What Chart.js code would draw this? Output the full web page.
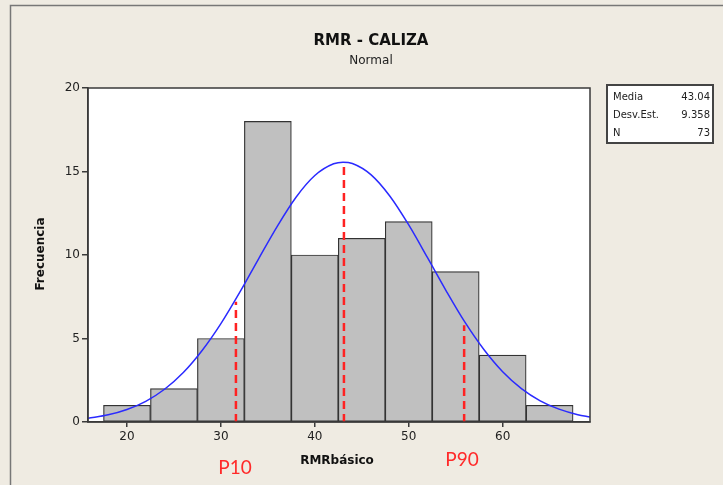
<!DOCTYPE html>
<html>
<head>
<meta charset="utf-8">
<script src="https://cdn.jsdelivr.net/npm/chart.js@4.4.0/dist/chart.umd.min.js"></script>
<style>
  html, body { margin: 0; padding: 0; background: #efebe2; }
  #wrap { width: 723px; height: 485px; }
</style>
</head>
<body>
<div id="wrap"><canvas id="histChart" width="723" height="485"></canvas></div>
<script>
// histogram bins (centres) and counts
const binCenters = [20, 25, 30, 35, 40, 45, 50, 55, 60, 65];
const counts = [1, 2, 5, 18, 10, 11, 12, 9, 4, 1];

// fitted normal curve
const curveX = [15.85, 18, 20, 22, 24, 26, 28, 30, 32, 34, 36, 38, 40, 42, 43, 44, 46, 48, 50, 52, 54, 56, 58, 60, 62, 64, 66, 68, 69.3];
const curveY = [0.22, 0.43, 0.75, 1.24, 1.96, 2.96, 4.28, 5.89, 7.76, 9.76, 11.72, 13.46, 14.76, 15.46, 15.56, 15.48, 14.8, 13.52, 11.8, 9.84, 7.84, 5.96, 4.34, 3.01, 2.0, 1.27, 0.77, 0.44, 0.3];

// red dashed reference lines (P10, mean, P90)
const refNames = ['P10', 'Media', 'P90'];
const refX = [31.6, 43.1, 55.9];
const refTop = [7.2, 15.5, 5.8];

const xTicks = [20, 30, 40, 50, 60];
const yTicks = [0, 5, 10, 15, 20];

const statLabels = ['Media', 'Desv.Est.', 'N'];
const statValues = ['43.04', '9.358', '73'];

const axisColor = '#3a3a3a';
const tickFont = { family: 'DejaVu Sans', size: 12 };

const refDatasets = refX.map((x, i) => ({
    type: 'line',
    label: refNames[i],
    data: [{ x: x, y: 0 }, { x: x, y: refTop[i] }],
    borderColor: '#ff2222',
    borderWidth: 2.5,
    borderDash: [8, 5],
    pointRadius: 0,
    fill: false,
    order: 1
}));

const decorations = {
    id: 'decorations',
    beforeDraw(chart) {
        const ctx = chart.ctx;
        const a = chart.chartArea;
        ctx.save();
        ctx.fillStyle = '#efebe2';
        ctx.fillRect(0, 0, chart.width, chart.height);
        // outer frame
        ctx.strokeStyle = '#777';
        ctx.lineWidth = 1.5;
        ctx.beginPath();
        ctx.moveTo(10.5, chart.height);
        ctx.lineTo(10.5, 5.5);
        ctx.lineTo(chart.width, 5.5);
        ctx.stroke();
        ctx.fillStyle = '#ffffff';
        ctx.fillRect(a.left, a.top, a.right - a.left, a.bottom - a.top);
        ctx.restore();
    },
    afterDraw(chart) {
        const ctx = chart.ctx;
        const a = chart.chartArea;
        ctx.save();
        // plot border
        ctx.strokeStyle = axisColor;
        ctx.lineWidth = 1.5;
        ctx.strokeRect(a.left, a.top, a.right - a.left, a.bottom - a.top);

        // titles
        ctx.fillStyle = '#111';
        ctx.textAlign = 'center';
        ctx.textBaseline = 'middle';
        ctx.font = 'bold 15px "DejaVu Sans"';
        ctx.fillText('RMR - CALIZA', 371, 41);
        ctx.font = '12px "DejaVu Sans"';
        ctx.fillStyle = '#222';
        ctx.fillText('Normal', 371, 61);

        ctx.fillStyle = '#111';
        ctx.font = 'bold 12px "DejaVu Sans"';
        ctx.fillText('RMRbásico', 337, 461);
        ctx.save();
        ctx.translate(41, 254);
        ctx.rotate(-Math.PI / 2);
        ctx.fillText('Frecuencia', 0, 0);
        ctx.restore();

        // P10 / P90 labels
        ctx.fillStyle = '#ff2a2a';
        ctx.font = '19px Lato';
        ctx.fillText('P10', 235, 468);
        ctx.fillText('P90', 462, 460);

        // stats box
        ctx.fillStyle = '#ffffff';
        ctx.fillRect(607, 85, 106, 58);
        ctx.strokeStyle = '#444';
        ctx.lineWidth = 2;
        ctx.strokeRect(607, 85, 106, 58);
        ctx.font = '10px "DejaVu Sans"';
        ctx.fillStyle = '#222';
        statLabels.forEach((lab, i) => {
            const y = 97 + i * 18;
            ctx.textAlign = 'left';
            ctx.fillText(lab, 613, y);
            ctx.textAlign = 'right';
            ctx.fillText(statValues[i], 710, y);
        });
        ctx.restore();
    }
};

const ctx = document.getElementById('histChart').getContext('2d');
const histChart = new Chart(ctx, {
    type: 'bar',
    data: {
        datasets: [
            {
                type: 'line',
                label: 'Normal',
                data: curveX.map((x, i) => ({ x: x, y: curveY[i] })),
                borderColor: '#2a2aff',
                borderWidth: 1.5,
                pointRadius: 0,
                cubicInterpolationMode: 'monotone',
                fill: false,
                order: 0
            },
            ...refDatasets,
            {
                type: 'bar',
                label: 'Frecuencia',
                data: binCenters.map((x, i) => ({ x: x, y: counts[i] })),
                backgroundColor: '#c0c0c0',
                borderColor: '#333333',
                borderWidth: 1.2,
                borderSkipped: false,
                barPercentage: 1,
                categoryPercentage: 1,
                order: 2
            }
        ]
    },
    options: {
        responsive: false,
        devicePixelRatio: 1,
        animation: false,
        layout: { padding: { left: 0, top: 88, right: 133, bottom: 0 } },
        plugins: {
            legend: { display: false },
            title: { display: false },
            tooltip: { enabled: false }
        },
        scales: {
            x: {
                type: 'linear',
                min: 15.85,
                max: 69.3,
                offset: false,
                afterBuildTicks: axis => { axis.ticks = xTicks.map(v => ({ value: v })); },
                afterFit: axis => { axis.height = 63; },
                grid: { display: true, drawOnChartArea: false, drawTicks: true, tickLength: 5, color: axisColor, offset: false, lineWidth: 1.5 },
                border: { display: true, color: axisColor, width: 1.5 },
                ticks: { font: tickFont, color: '#222', padding: 3, maxRotation: 0 }
            },
            y: {
                min: 0,
                max: 20,
                afterBuildTicks: axis => { axis.ticks = yTicks.map(v => ({ value: v })); },
                afterFit: axis => { axis.width = 88; },
                grid: { display: true, drawOnChartArea: false, drawTicks: true, tickLength: 6, color: axisColor, lineWidth: 1.5 },
                border: { display: true, color: axisColor, width: 1.5 },
                ticks: { font: tickFont, color: '#222', padding: 2 }
            }
        }
    },
    plugins: [decorations]
});
</script>
</body>
</html>
